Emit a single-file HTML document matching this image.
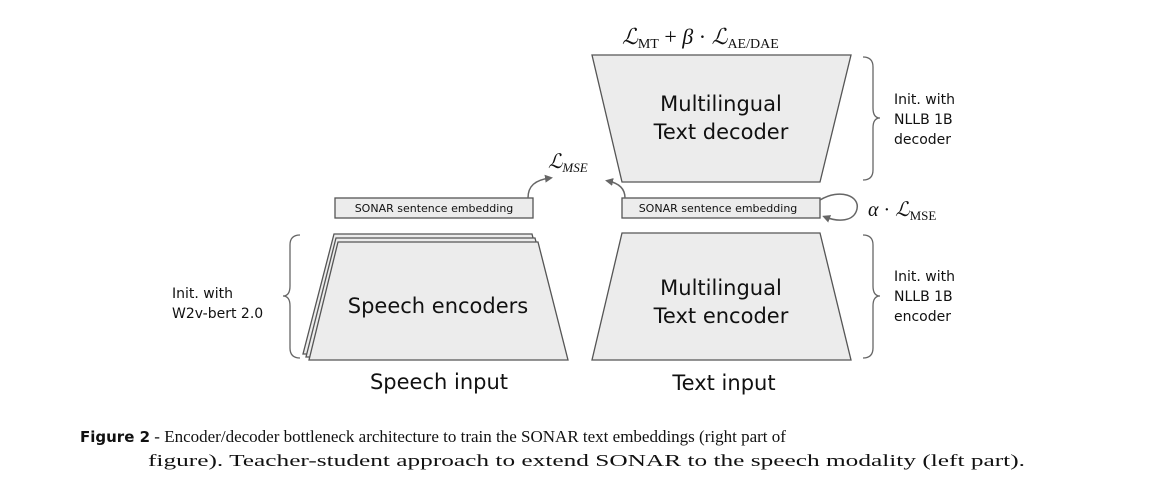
<!DOCTYPE html>
<html><head><meta charset="utf-8"><style>
html,body{margin:0;padding:0;background:#fff;}
svg{display:block;}
.s{font-family:"DejaVu Sans","Liberation Sans",sans-serif;fill:#111;}
.m{font-family:"Liberation Serif",serif;fill:#111;}
</style></head><body>
<svg width="1171" height="488" viewBox="0 0 1171 488" xmlns="http://www.w3.org/2000/svg">
<defs><marker id="ah" markerWidth="8" markerHeight="8" refX="5" refY="4" orient="auto" markerUnits="userSpaceOnUse"><path d="M0,0 L8,4 L0,8 Z" fill="#666"/></marker></defs>
<g stroke="#555" stroke-width="1.3" fill="#ececec">
<!-- decoder -->
<polygon points="592,55 851,55 820,182 622,182"/>
<!-- text encoder -->
<polygon points="622,233 820,233 851,360 592,360"/>
<!-- speech encoders stacked -->
<polygon points="334,234 532,234 563,354 303,354"/>
<polygon points="336,238 535,238 566,357 306,357"/>
<polygon points="338,242 538,242 568,360 309,360"/>
<!-- sonar boxes -->
<rect x="335" y="198" width="198" height="20"/>
<rect x="622" y="198" width="198" height="20"/>
</g>
<g fill="none" stroke="#666" stroke-width="1.5">
<path d="M528,198 C528,186 535,180 550,178" marker-end="url(#ah)"/>
<path d="M625,198 C625,188 618,183 608,181" marker-end="url(#ah)"/>
<path d="M820,200 C840,188 860,196 857,209 C854,222 838,222 825,217" marker-end="url(#ah)"/>
</g>
<g fill="none" stroke="#666" stroke-width="1.3">
<path d="M863,57 Q873,57 873,67 L873,108 Q873,118 880,118 Q873,118 873,128 L873,170 Q873,180 863,180"/>
<path d="M863,235 Q873,235 873,245 L873,286 Q873,296 880,296 Q873,296 873,306 L873,348 Q873,358 863,358"/>
<path d="M300,235 Q290,235 290,245 L290,286 Q290,296 283,296 Q290,296 290,306 L290,348 Q290,358 300,358"/>
</g>
<g class="s" font-size="11" fill="#222">
<text x="434" y="212" text-anchor="middle">SONAR sentence embedding</text>
<text x="718" y="212" text-anchor="middle">SONAR sentence embedding</text>
</g>
<g class="s" font-size="21" text-anchor="middle">
<text x="721" y="111">Multilingual</text>
<text x="721" y="139">Text decoder</text>
<text x="721" y="295">Multilingual</text>
<text x="721" y="323">Text encoder</text>
<text x="438" y="313">Speech encoders</text>
<text x="439" y="389">Speech input</text>
<text x="724" y="390">Text input</text>
</g>
<g class="s" font-size="14">
<text x="894" y="104">Init. with</text><text x="894" y="124">NLLB 1B</text><text x="894" y="144">decoder</text>
<text x="894" y="281">Init. with</text><text x="894" y="301">NLLB 1B</text><text x="894" y="321">encoder</text>
<text x="172" y="298">Init. with</text><text x="172" y="318">W2v-bert 2.0</text>
</g>
<g class="m">
<text x="622" y="44" font-size="22" font-style="italic">ℒ<tspan font-style="normal" font-size="14" dy="4">MT</tspan><tspan font-style="normal" font-size="22" dy="-4"> + </tspan>β<tspan font-style="normal"> · </tspan>ℒ<tspan font-style="normal" font-size="14" dy="4">AE/DAE</tspan></text>
<text x="548" y="168" font-size="20" font-style="italic">ℒ<tspan font-size="13" dy="4">MSE</tspan></text>
<text x="868" y="216" font-size="20" font-style="italic">α<tspan font-style="normal"> · </tspan>ℒ<tspan font-style="normal" font-size="13" dy="4">MSE</tspan></text>
</g>
<text x="80" y="442" font-size="17" class="m"><tspan font-family="DejaVu Sans,sans-serif" font-weight="bold" font-size="15">Figure 2</tspan> - Encoder/decoder bottleneck architecture to train the SONAR text embeddings (right part of</text>
<text x="148" y="466" font-size="17" class="m" textLength="877" lengthAdjust="spacingAndGlyphs">figure). Teacher-student approach to extend SONAR to the speech modality (left part).</text>
</svg>
</body></html>
